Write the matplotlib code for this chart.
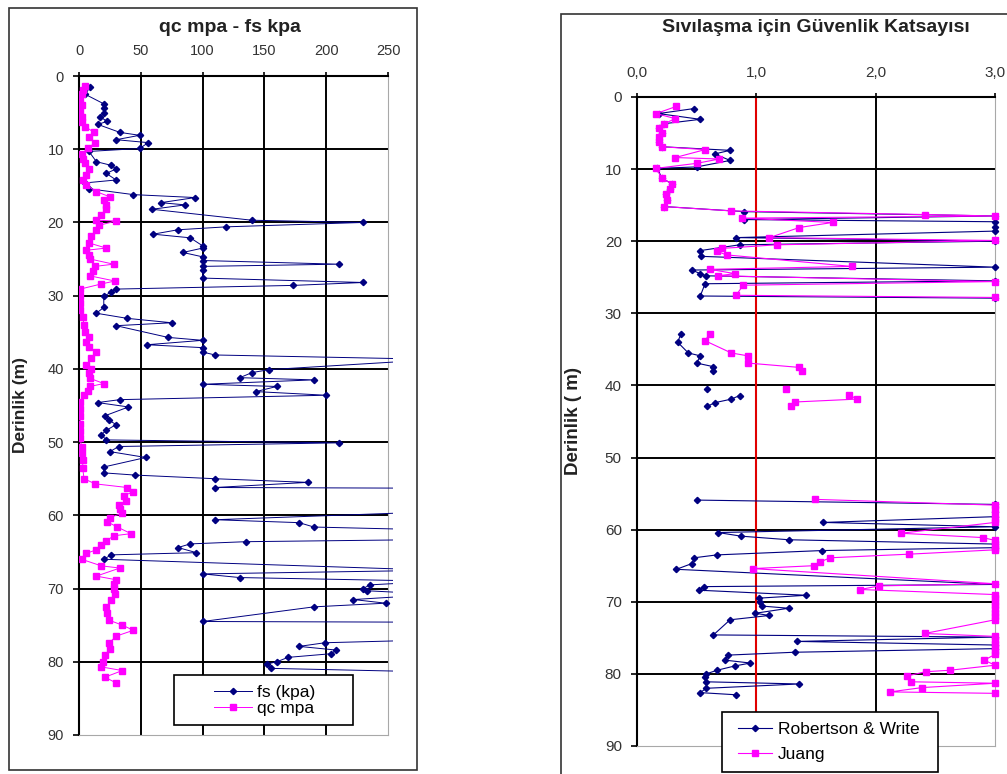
import numpy as np
import matplotlib
matplotlib.use("Agg")
import matplotlib.pyplot as plt
from matplotlib.patches import Rectangle

plt.rcParams["font.family"] = ["Liberation Sans", "DejaVu Sans"]

NAVY = "#000080"
MAGENTA = "#FF00FF"
TXT = "#333333"
nan = np.nan

# left chart: fs (kpa) and qc (mpa) against depth (m)
fs_depth = [1.5, 2.5, 3.8, 4.4, 5.1, 5.6, 6.2, 6.6, 7.7, 8.1, 8.7, 9.1, 9.9, 10.3, 11.7, 12.2,
            12.7, 13.3, 14.2, 14.6, 15.4, 16.2, 16.6, 17.3, 17.6, 18.2, 19.7, 20.0, 20.6, 21.0,
            21.6, 22.1, 23.2, 23.5, 24.1, 24.7, 25.2, 25.7, 26.0, 26.5, 27.6, 28.2, 28.6, 29.1,
            29.5, 30.1, 31.6, 32.4, 33.1, 33.7, 34.1, 35.7, 36.1, 36.7, 37.1, 37.7, 38.1, 38.7,
            40.1, 40.5, 41.2, 41.5, 42.1, 42.4, 43.1, 43.6, 44.2, 44.6, 45.2, 46.4, 47.0, 47.6,
            48.4, 49.0, 49.7, 50.1, 50.6, 51.3, 52.1, 53.4, 54.2, 54.5, 55.0, 55.5, 56.2, 56.3,
            59.5, 60.6, 61.0, 61.6, 62.0, 63.3, 63.6, 63.9, 64.4, 65.1, 65.4, 66.0, 67.5, 68.0,
            68.5, 69.0, 69.5, 70.0, 70.3, 70.8, 71.5, 72.0, 72.5, 74.5, 74.6, 77.0, 77.4, 77.9,
            78.4, 78.9, 79.4, 80.0, 80.3, 80.9, 81.4]
fs_val = [9, 5, 20, 20, 20, 17, 23, 15, 33, 49, 30, 56, 49, 8, 14, 26,
          30, 22, 30, 5, 8, 44, 94, 66, 86, 59, 140, 230, 119, 80,
          60, 90, 100, 100, 84, 100, 100, 210, 100, 100, 100, 230, 173, 30,
          26, 20, 20, 14, 39, 75, 30, 72, 100, 55, 100, 100, 110, 290,
          154, 140, 130, 190, 100, 160, 143, 200, 33, 15, 40, 21, 24, 30,
          22, 18, 22, 210, 32, 25, 54, 20, 20, 45, 110, 185, 110, 290,
          290, 110, 178, 190, 290, 290, 135, 90, 80, 95, 26, 20, 290, 100,
          130, 290, 235, 230, 233, 290, 222, 248, 190, 100, 290, 290, 199, 178,
          208, 204, 169, 160, 152, 155, 290]

qc_depth = [1.4, 1.9, 2.5, 3.2, 4.0, 4.8, 5.6, 6.3, 6.9, 7.7, 8.3, 9.1, 9.9, 10.6, 11.3, 11.9,
            12.7, 13.5, 14.2, 14.9, 15.8, 16.5, 16.9, 17.6, 18.2, 19.0, 19.7, 19.8, 20.4, 21.0,
            21.9, 22.8, 23.5, 23.8, 24.5, 25.0, 25.7, 26.0, 26.6, 27.3, 28.0, 28.4, 29.1, 30.0,
            31.0, 32.0, 32.9, 34.0, 35.0, 35.6, 36.3, 37.0, 37.7, 38.5, 39.5, 40.0, 40.6, 41.3,
            42.0, 42.4, 43.0, 43.6, 44.5, 45.5, 46.5, 47.5, 48.5, 49.5, 50.6, 51.5, 52.5, 53.6,
            55.0, 55.7, 56.2, 56.8, 57.3, 58.1, 58.6, 59.2, 59.7, 60.3, 60.9, 61.6, 62.5, 62.8,
            63.5, 64.1, 64.7, 65.2, 66.0, 66.9, 67.2, 68.3, 68.8, 69.4, 70.0, 70.7, 71.6, 72.5,
            73.4, 74.3, 75.0, 75.7, 76.5, 77.5, 78.2, 79.1, 80.0, 80.7, 81.2, 82.1, 82.9]
qc_val = [5, 3, 2, 1, 2, 1, 2, 2, 5, 12, 8, 13, 7, 2, 3, 5,
          8, 6, 3, 6, 14, 25, 20, 22, 22, 18, 14, 30, 16, 14,
          10, 8, 22, 6, 8, 9, 28, 13, 11, 9, 29, 18, 1, 1,
          1, 1, 3, 4, 5, 8, 6, 8, 14, 10, 6, 10, 8, 9,
          20, 9, 7, 4, 1, 1, 1, 1, 1, 1, 2, 2, 3, 3,
          4, 13, 39, 44, 36, 38, 32, 33, 35, 25, 23, 31, 42, 28,
          22, 18, 14, 6, 2, 18, 33, 14, 30, 28, 28, 29, 26, 22,
          23, 24, 35, 44, 30, 24, 25, 21, 19, 18, 35, 21, 30]

# right chart: safety factor against liquefaction
rw_depth = [1.6, 2.3, 3.1, 3.7, 4.3, 5.0, 6.2, 6.9, 7.4, 7.9, 8.8, 9.7, 9.9, 11.3, 12.0, 12.7,
            13.5, 14.3, 15.2, 15.9, 16.5, 17.0, 17.3, 18.0, 18.6, 19.5, 20.0, 20.5, 21.3, 22.1,
            23.6, 24.0, 24.5, 24.8, 25.5, 25.9, 27.6, 27.9, nan,
            32.8, 34.0, 35.5, 35.9, 36.9, 37.4, 38.0, nan, 40.5, nan, 41.4, 41.9, 42.4, 42.9, nan,
            55.9, 56.5, 57.5, 58.2, 59.0, 59.6, 60.4, 60.9, 61.4, 62.0, 62.5, 62.9, 63.5, 63.9,
            64.7, 65.5, 67.6, 67.9, 68.4, 69.1, 69.5, 70.0, 70.6, 70.9, 71.6, 71.9, 72.5, 74.6,
            74.9, 75.5, 76.0, 76.5, 77.0, 77.4, 78.1, 78.5, 78.9, 79.5, 80.0, 80.5, 81.1, 81.4,
            82.0, 82.6, 82.9]
rw_val = [0.48, 0.18, 0.53, 0.23, 0.18, 0.21, 0.18, 0.21, 0.78, 0.65, 0.78, 0.50, 0.17, 0.21, 0.29, 0.28,
          0.24, 0.25, 0.23, 0.90, 3.0, 0.90, 3.0, 3.0, 3.0, 0.83, 3.0, 0.86, 0.53, 0.54,
          3.0, 0.46, 0.53, 0.58, 3.0, 0.57, 0.53, 3.0, nan,
          0.37, 0.34, 0.43, 0.53, 0.50, 0.64, 0.64, nan, 0.59, nan, 0.86, 0.79, 0.65, 0.59, nan,
          0.50, 3.0, 3.0, 3.0, 1.56, 3.0, 0.68, 0.87, 1.27, 3.0, 3.0, 1.55, 0.67, 0.48,
          0.46, 0.33, 3.0, 0.56, 0.52, 1.42, 1.02, 1.03, 1.05, 1.27, 0.99, 1.11, 0.78, 0.64,
          3.0, 1.34, 3.0, 3.0, 1.32, 0.76, 0.74, 0.95, 0.82, 0.67, 0.58, 0.57, 0.58, 1.36,
          0.58, 0.53, 0.83]

ju_depth = [1.3, 2.3, 3.0, 3.7, 4.3, 5.0, 5.5, 6.2, 6.9, 7.3, 8.4, 8.6, 9.2, 9.9, 11.3, 12.0,
            12.7, 13.5, 14.3, 15.2, 15.8, 16.3, 16.5, 16.8, 17.4, 18.1, 19.5, 19.9, 20.5, 21.0,
            21.4, 21.9, 23.5, 23.9, 24.5, 24.8, 25.6, 26.1, 27.5, 27.8, nan,
            32.8, 33.8, 35.5, 35.9, 36.9, 37.5, 38.0, nan, 40.5, nan, 41.3, 41.9, 42.3, 42.8, nan,
            55.8, 56.6, 57.2, 57.8, 58.5, 59.0, 60.5, 61.1, 61.5, 62.0, 62.5, 62.8, 63.4, 63.9,
            64.5, 65.0, 65.4, 67.5, 67.8, 68.3, 69.0, 69.5, 70.0, 70.5, 71.0, 71.5, 72.0, 72.5,
            74.4, 74.8, 75.3, 75.8, 76.3, 76.8, 77.3, 78.1, 78.8, 79.5, 79.7, 80.3, 81.1, 81.3,
            81.9, 82.5, 82.7]
ju_val = [0.33, 0.16, 0.32, 0.23, 0.18, 0.21, 0.18, 0.18, 0.21, 0.57, 0.32, 0.69, 0.50, 0.16, 0.21, 0.29,
          0.28, 0.24, 0.25, 0.23, 0.79, 2.41, 3.0, 0.88, 1.64, 1.36, 1.11, 3.0, 1.17, 0.71,
          0.67, 0.75, 1.80, 0.61, 0.82, 0.68, 3.0, 0.89, 0.83, 3.0, nan,
          0.61, 0.57, 0.79, 0.93, 0.93, 1.36, 1.38, nan, 1.25, nan, 1.78, 1.84, 1.32, 1.29, nan,
          1.49, 3.0, 3.0, 3.0, 3.0, 3.0, 2.21, 2.90, 3.0, 3.0, 3.0, 3.0, 2.28, 1.62,
          1.53, 1.48, 0.97, 3.0, 2.03, 1.87, 3.0, 3.0, 3.0, 3.0, 3.0, 3.0, 3.0, 3.0,
          2.41, 3.0, 3.0, 3.0, 3.0, 3.0, 3.0, 2.91, 3.0, 2.62, 2.42, 2.26, 2.30, 3.0,
          2.39, 2.12, 3.0]

depth_ticks = list(range(0, 91, 10))
fs_ticks = [0, 50, 100, 150, 200, 250]
fk_ticks = [0.0, 1.0, 2.0, 3.0]


def style_axes(ax, xticks, xlabels, grid_x, tick_size, label_pad):
    ax.set_ylim(90, 0)
    ax.set_xlim(xticks[0], xticks[-1])
    ax.xaxis.tick_top()
    ax.set_xticks(xticks)
    ax.set_xticklabels(xlabels)
    ax.set_yticks(depth_ticks)
    ax.tick_params(axis="x", direction="out", length=3, width=1.2, pad=label_pad,
                   labelsize=tick_size, labelcolor=TXT)
    ax.tick_params(axis="y", direction="out", length=4, width=1.2, pad=7,
                   labelsize=tick_size, labelcolor=TXT)
    for v in grid_x:
        ax.axvline(v, color="black", lw=1.4, zorder=1)
    for d in depth_ticks[1:-1]:
        ax.axhline(d, color="black", lw=1.4, zorder=1)
    ax.spines["left"].set_linewidth(1.5)
    ax.spines["top"].set_linewidth(1.5)
    ax.spines["right"].set_color("#a8a8a8")
    ax.spines["bottom"].set_color("#a8a8a8")


def legend_box(ax, x0, y0, x1, y1):
    ax.add_patch(Rectangle((x0, y0), x1 - x0, y1 - y0, transform=ax.transAxes,
                           facecolor="white", edgecolor="black", lw=1.2,
                           zorder=6, clip_on=False))


fig = plt.figure(figsize=(10.07, 7.74), dpi=100)

# outer chart frames
fig.patches.append(Rectangle((0.0089, 0.0052), 0.405, 0.9845, transform=fig.transFigure,
                             fill=False, ec="#333333", lw=1.2))
fig.patches.append(Rectangle((0.557, -0.1), 0.6, 1.082, transform=fig.transFigure,
                             fill=False, ec="#333333", lw=1.2))

# ---- left chart
ax1 = fig.add_axes([0.0785, 0.0504, 0.3069, 0.8514])
style_axes(ax1, fs_ticks, [str(t) for t in fs_ticks], fs_ticks[1:-1], 10.5, 10)
clip1 = Rectangle((0, 0), 1.016, 1, transform=ax1.transAxes)
l_fs, = ax1.plot(fs_val, fs_depth, color=NAVY, lw=0.7, marker="D", ms=3.2,
                 mfc=NAVY, mec=NAVY, zorder=3, label="fs (kpa)")
l_qc, = ax1.plot(qc_val, qc_depth, color=MAGENTA, lw=0.7, marker="s", ms=3.8,
                 mfc=MAGENTA, mec=MAGENTA, zorder=3, label="qc mpa")
l_fs.set_clip_path(clip1)
l_qc.set_clip_path(clip1)
ax1.set_ylabel("Derinlik (m)", fontsize=12.5, fontweight="bold", color="#222222")
ax1.yaxis.set_label_coords(-0.165, 0.5)
legend_box(ax1, 0.307, 0.015, 0.887, 0.091)
ax1.legend(loc="center", bbox_to_anchor=(0.60, 0.053), frameon=False, fontsize=12.5,
           handlelength=2.2, handletextpad=0.3, labelspacing=0.05).set_zorder(7)
fig.text(0.228, 0.964, "qc mpa - fs kpa", ha="center", va="center",
         fontsize=14, fontweight="bold", color="#222222")

# ---- right chart
ax2 = fig.add_axes([0.6326, 0.0362, 0.3555, 0.8385])
style_axes(ax2, fk_ticks, [f"{t:.1f}".replace(".", ",") for t in fk_ticks], [2.0], 11, 9)
ax2.axvline(1.0, color="#e00000", lw=1.5, zorder=2)
ax2.plot(rw_val, rw_depth, color=NAVY, lw=0.8, marker="D", ms=3.2, mfc=NAVY, mec=NAVY,
         zorder=3, clip_on=False, label="Robertson & Write")
ax2.plot(ju_val, ju_depth, color=MAGENTA, lw=0.8, marker="s", ms=3.8, mfc=MAGENTA,
         mec=MAGENTA, zorder=3, clip_on=False, label="Juang")
ax2.set_ylabel("Derinlik ( m)", fontsize=13.5, fontweight="bold", color="#222222")
ax2.yaxis.set_label_coords(-0.154, 0.5)
legend_box(ax2, 0.237, -0.040, 0.841, 0.052)
ax2.legend(loc="center", bbox_to_anchor=(0.535, 0.006), frameon=False, fontsize=12.5,
           handlelength=2.0, handletextpad=0.3, labelspacing=0.55).set_zorder(7)
fig.text(0.810, 0.965, "Sıvılaşma için Güvenlik Katsayısı", ha="center", va="center",
         fontsize=14, fontweight="bold", color="#222222")

fig.savefig("out.png", dpi=100)
